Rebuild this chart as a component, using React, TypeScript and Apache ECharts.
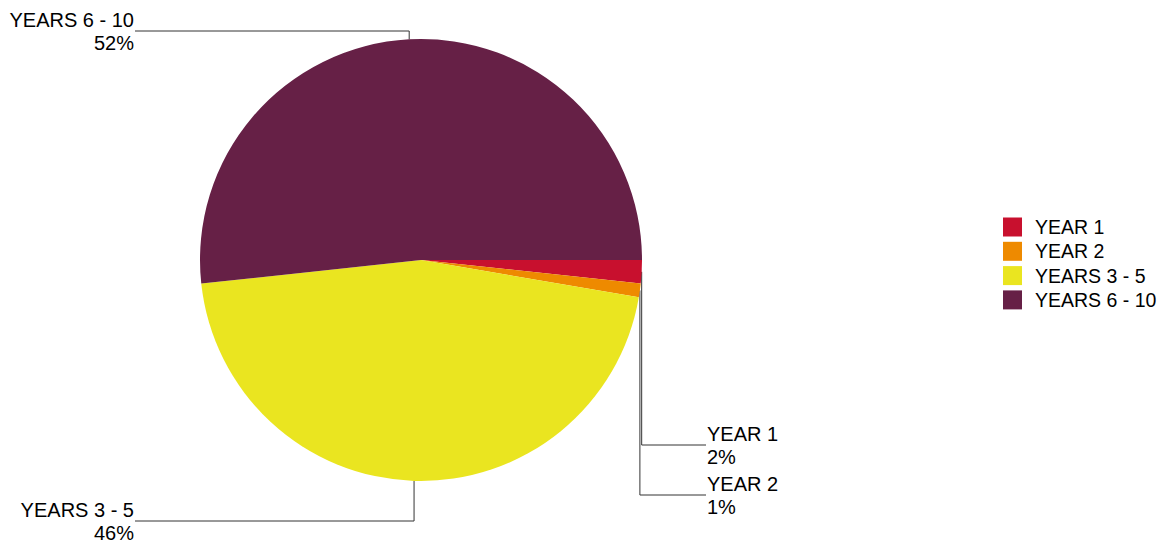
import React, { useEffect, useRef } from "react";
import * as echarts from "echarts";

const categories = ["YEAR 1", "YEAR 2", "YEARS 3 - 5", "YEARS 6 - 10"];
const values = [1.7, 1.0, 45.6, 51.7];
const colors = ["#C8102E", "#EE8A00", "#EAE520", "#662046"];

// label layout (side of the label column and y of its leader line)
const labelSide = ["right", "right", "left", "left"];
const labelLineY = [445, 495, 521, 31];

const CX = 421;
const CY = 260;
const R = 221;
const LEFT_X = 134;
const RIGHT_X = 707;
const FONT = "'Liberation Sans', Arial, sans-serif";

export default function App() {
  const ref = useRef<HTMLDivElement>(null);
  useEffect(() => {
    if (!ref.current) return;
    const chart = echarts.init(ref.current, undefined, { renderer: "svg" });
    const total = values.reduce((a, b) => a + b, 0);
    const mids: number[] = [];
    let cum = 0;
    values.forEach((v) => {
      mids.push(((cum + v / 2) / total) * Math.PI * 2);
      cum += v;
    });
    chart.setOption({
      animation: false,
      legend: {
        orient: "vertical",
        left: 998,
        top: 212,
        itemWidth: 19,
        itemHeight: 19,
        itemGap: 4.3,
        icon: "rect",
        data: categories,
        textStyle: {
          fontFamily: FONT,
          fontSize: 19.5,
          lineHeight: 19,
          color: "#000",
          padding: [0, 0, 0, 8],
        },
      },
      series: [
        {
          type: "pie",
          center: [CX, CY],
          radius: R,
          startAngle: 0,
          clockwise: true,
          avoidLabelOverlap: false,
          data: categories.map((c, i) => ({
            name: c,
            value: values[i],
            itemStyle: { color: colors[i] },
          })),
          label: {
            show: true,
            position: "outside",
            formatter: (p: any) => `${p.name}\n${Math.round(p.percent)}%`,
            fontFamily: FONT,
            fontSize: 20,
            lineHeight: 23,
            color: "#000",
          },
          labelLine: {
            show: true,
            lineStyle: { color: "#333", width: 1 },
          },
          labelLayout: (params: any) => {
            const i = params.dataIndex;
            const a = mids[i];
            const ax = CX + R * Math.cos(a);
            const ay = CY + R * Math.sin(a);
            const ly = labelLineY[i];
            const left = labelSide[i] === "left";
            const tx = left ? LEFT_X : RIGHT_X;
            return {
              x: tx,
              y: ly,
              align: left ? "right" : "left",
              verticalAlign: "middle",
              labelLinePoints: [
                [ax, ay],
                [ax, ly],
                [left ? tx + 1 : tx - 1, ly],
              ],
            };
          },
        },
      ],
    });
    return () => chart.dispose();
  }, []);
  return (
    <div
      ref={ref}
      style={{ position: "absolute", left: 0, top: 0, width: 1168, height: 546 }}
    />
  );
}
